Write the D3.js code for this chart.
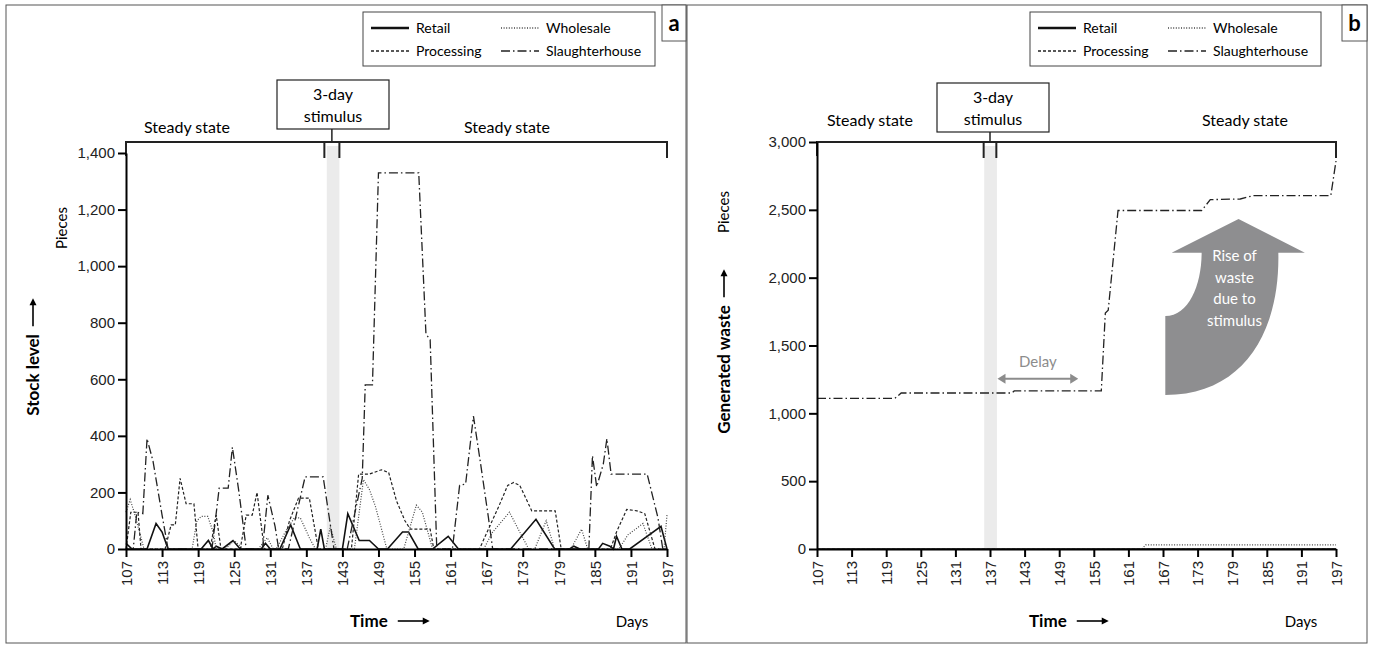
<!DOCTYPE html>
<html>
<head>
<meta charset="utf-8">
<script src="https://cdn.jsdelivr.net/npm/d3@7"></script>
<style>
  body { margin: 0; background: #fff; }
  svg { font-family: Lato, "Open Sans", sans-serif; }
  .axis path, .axis line { stroke: #000; stroke-width: 2px; }
  .axis text { font-size: 15px; fill: #222; }
</style>
</head>
<body>
<script>
// tick labels
const dayTicks = [107, 113, 119, 125, 131, 137, 143, 149, 155, 161, 167, 173, 179, 185, 191, 197];
const stockTicks = [0, 200, 400, 600, 800, 1000, 1200, 1400];
const wasteTicks = [0, 500, 1000, 1500, 2000, 2500, 3000];
const seriesNames = ["Retail", "Wholesale", "Processing", "Slaughterhouse"];

// panel a: stock level, [day, pieces]
const retailA = [[107,20],[108,0],[110.5,0],[112,90],[113,60],[114,0],[119.5,0],[120.7,30],[121.5,0],[122,10],[123,0],
  [124.8,30],[126,0],[129.5,0],[130.2,20],[131,0],[132.6,0],[134.4,85],[136,0],[138.8,0],[139.4,70],[140,0],[143,0],
  [143.9,125],[145.8,30],[147.5,30],[149,0],[150.5,0],[153,60],[154,60],[155.6,0],[158,0],[160.6,45],[162.3,0],[171,0],
  [175.2,105],[178.3,0],[180.8,0],[181.5,10],[182.5,0],[185.6,0],[186.3,20],[187.5,10],[188.1,0],[188.6,45],[189.5,0],
  [190.8,0],[196,80],[197,0]];
const wholesaleA = [[107,130],[107.7,175],[108.5,120],[110,0],[118,0],[118.8,100],[119.5,115],[120.6,115],[121.5,60],
  [122,0],[123.5,0],[125,30],[126.5,0],[129,0],[130.5,40],[131.5,0],[132,0],[133.5,60],[135,110],[136,110],[137.5,40],
  [138.5,0],[140.2,0],[141,80],[142,0],[145,0],[146.5,245],[147.5,210],[148.5,150],[150.4,0],[153.2,0],[155.3,155],
  [156.3,130],[158,0],[166.5,0],[168,60],[170.8,130],[172.5,60],[174,0],[175,0],[176.9,100],[178.3,0],[181,0],[182.8,70],
  [183.8,0],[189,0],[190.5,50],[193,90],[194.5,0],[196.5,0],[197,120]];
const processingA = [[107,0],[107.8,130],[109,130],[109.5,0],[113.5,0],[114.5,85],[115.2,85],[116,250],[117,160],
  [118.3,160],[119,0],[121,0],[122,120],[122.8,0],[126,0],[127,120],[128,120],[128.8,200],[130,0],[133,0],[134.2,100],
  [135.7,180],[137.5,180],[138.5,60],[139,0],[144.5,0],[145.7,265],[147.5,265],[149.5,280],[150.7,270],[152,170],
  [153.4,100],[154.3,70],[157.6,70],[158.2,0],[165.8,0],[167.5,80],[169,150],[170.5,225],[171.5,235],[172.5,225],
  [174.5,135],[178.4,135],[179.4,0],[187.6,0],[188.6,60],[190.3,140],[192,135],[193.3,125],[195,0],[197,0]];
const slaughterA = [[107,0],[108.2,0],[108.8,130],[109.8,125],[110.5,390],[111.5,310],[113,120],[114,0],[121.3,0],
  [122.5,215],[124,215],[124.7,360],[125.8,200],[127,0],[129.7,0],[130.6,190],[131.8,80],[132.4,0],[134,0],[136.8,255],
  [139.8,255],[141.6,0],[143.8,0],[146.3,250],[146.8,580],[148,580],[149,1330],[155.7,1330],[156.9,760],[157.6,740],
  [158.7,0],[161.3,0],[162.5,225],[163.5,230],[164.8,470],[166,300],[167.3,110],[168,0],[184,0],[184.6,330],[185.3,220],
  [186.4,300],[187,390],[187.7,265],[193.7,265],[195.5,110],[196.3,0],[197,0]];

// panel b: generated waste, [day, pieces]
const retailB = [[107,0],[197,0]];
const processingB = [[107,0],[197,0]];
const wholesaleB = [[107,0],[163.3,0],[164,30],[197,30]];
const slaughterB = [[107,1110],[120.5,1110],[121.6,1150],[140.8,1150],[141.2,1165],[156.3,1165],[157.0,1740],
  [157.5,1760],[159.2,2495],[173.7,2495],[175.2,2575],[180.4,2580],[182.7,2605],[196.1,2605],[197,2860]];

const W = 1373, H = 648;
const svg = d3.select("body").append("svg").attr("width", W).attr("height", H);

const styles = [
  {dash: null, width: 1.6, color: "#111"},
  {dash: "1,1.6", width: 1.2, color: "#444"},
  {dash: "3,2", width: 1.2, color: "#222"},
  {dash: "9,3,1.5,3", width: 1.3, color: "#222"}
];

function arrowRight(g, x0, x1, y) {
  g.append("line").attr("x1", x0).attr("x2", x1 - 5).attr("y1", y).attr("y2", y)
    .attr("stroke", "#000").attr("stroke-width", 1.6);
  g.append("path").attr("d", `M${x1},${y} L${x1 - 7},${y - 3.5} L${x1 - 7},${y + 3.5} Z`).attr("fill", "#000");
}

function drawPanel(p) {
  const g = svg.append("g");
  const x = d3.scaleLinear().domain([107, 197]).range([p.x0, p.x1]);
  const y = d3.scaleLinear().domain([0, p.ymax]).range([549, p.ytop]);

  // frame + letter box
  g.append("rect").attr("x", p.fx).attr("y", 5).attr("width", 680).attr("height", 638)
    .attr("fill", "none").attr("stroke", "#555");
  g.append("rect").attr("x", p.fx + 680 - p.lw).attr("y", 5).attr("width", p.lw).attr("height", 36)
    .attr("fill", "#fff").attr("stroke", "#555");
  g.append("text").attr("x", p.fx + 680 - p.lw / 2).attr("y", 31).attr("text-anchor", "middle")
    .attr("font-size", 22).attr("font-weight", "bold").text(p.letter);

  // stimulus band
  g.append("rect").attr("x", x(p.band[0])).attr("width", x(p.band[1]) - x(p.band[0]))
    .attr("y", 146).attr("height", 549 - 146).attr("fill", "#ebebeb");

  // series
  const line = d3.line().x(d => x(d[0])).y(d => y(d[1]));
  p.series.forEach((s, i) => {
    g.append("path").datum(s).attr("d", line).attr("fill", "none")
      .attr("stroke", styles[i].color).attr("stroke-width", styles[i].width)
      .attr("stroke-dasharray", styles[i].dash);
  });

  // bracket on top
  const bt = 142;
  g.append("path").attr("d", `M${p.x0},${bt + 14} V${bt} H${p.x1} V${bt + 16}`)
    .attr("fill", "none").attr("stroke", "#222").attr("stroke-width", 2);
  p.stim.forEach(d => {
    g.append("line").attr("x1", x(d)).attr("x2", x(d)).attr("y1", bt).attr("y2", bt + 16)
      .attr("stroke", "#222").attr("stroke-width", 2);
  });
  const sc = (x(p.stim[0]) + x(p.stim[1])) / 2;
  g.append("line").attr("x1", sc).attr("x2", sc).attr("y1", p.box[1] + p.box[3]).attr("y2", bt)
    .attr("stroke", "#222").attr("stroke-width", 1.5);
  g.append("rect").attr("x", p.box[0]).attr("y", p.box[1]).attr("width", p.box[2]).attr("height", p.box[3])
    .attr("fill", "#fff").attr("stroke", "#222").attr("stroke-width", 1.2);
  g.append("text").attr("x", p.box[0] + p.box[2] / 2).attr("y", p.box[1] + 20).attr("text-anchor", "middle")
    .attr("font-size", 16).text("3-day");
  g.append("text").attr("x", p.box[0] + p.box[2] / 2).attr("y", p.box[1] + 42).attr("text-anchor", "middle")
    .attr("font-size", 16).text("stimulus");
  p.steady.forEach(d => {
    g.append("text").attr("x", d[0]).attr("y", d[1]).attr("text-anchor", "middle")
      .attr("font-size", 16).text("Steady state");
  });

  // axes
  g.append("g").attr("class", "axis").attr("transform", `translate(0,549)`)
    .call(d3.axisBottom(x).tickValues(dayTicks).tickSize(8).tickSizeOuter(0))
    .selectAll("text").attr("transform", "rotate(-90)").attr("x", -12).attr("y", 0)
    .attr("dy", "0.35em").style("text-anchor", "end");
  g.append("g").attr("class", "axis").attr("transform", `translate(${p.x0},0)`)
    .call(d3.axisLeft(y).tickValues(p.yticks).tickSize(8).tickSizeOuter(0).tickFormat(d3.format(",")))
    .selectAll("text").attr("x", -11);

  // titles
  const yt = g.append("g").attr("transform", `translate(${p.ytx},${(549 + p.ytop) / 2 + 6}) rotate(-90)`);
  const ytxt = yt.append("text").attr("font-size", 17).attr("font-weight", "bold").attr("dy", "0.35em").text(p.ytitle);
  const tw = ytxt.node().getComputedTextLength();
  ytxt.attr("x", -(tw + 36) / 2);
  arrowRight(yt, -(tw + 36) / 2 + tw + 8, (tw + 36) / 2, 0);
  g.append("text").attr("transform", `translate(${p.pcs[0]},${p.pcs[1]}) rotate(-90)`)
    .attr("text-anchor", "middle").attr("dy", "0.35em").attr("font-size", 15).text("Pieces");

  const tx = g.append("g");
  const ttxt = tx.append("text").attr("x", p.time).attr("y", 627).attr("font-size", 17).attr("font-weight", "bold").text("Time");
  const tl = ttxt.node().getComputedTextLength();
  arrowRight(tx, p.time + tl + 10, p.time + tl + 42, 621);
  g.append("text").attr("x", p.x1 - 35).attr("y", 627).attr("text-anchor", "middle").attr("font-size", 15).text("Days");

  // legend
  const lg = g.append("g").attr("transform", `translate(${p.leg[0]},${p.leg[1]})`);
  lg.append("rect").attr("width", p.leg[2]).attr("height", 54).attr("fill", "#fff").attr("stroke", "#444");
  seriesNames.forEach((n, i) => {
    const cx = (i % 2) * p.leg[3] + 8, cy = i < 2 ? 16 : 39;
    lg.append("line").attr("x1", cx).attr("x2", cx + 38).attr("y1", cy).attr("y2", cy)
      .attr("stroke", styles[i].color).attr("stroke-width", i === 0 ? 2.4 : 1.3)
      .attr("stroke-dasharray", styles[i].dash);
    lg.append("text").attr("x", cx + 45).attr("y", cy).attr("dy", "0.35em").attr("font-size", 14).text(n);
  });
  return {g, x, y};
}

drawPanel({
  fx: 6, letter: "a", lw: 24, x0: 126, x1: 667, ymax: 1400, ytop: 153, yticks: stockTicks,
  band: [140.4, 142.5], stim: [140, 142.5], box: [277, 80, 112, 49],
  steady: [[187, 133], [507, 133]], ytitle: "Stock level", ytx: 33, pcs: [62, 228], time: 350,
  leg: [363, 12, 292, 130],
  series: [retailA, wholesaleA, processingA, slaughterA]
});

const pb = drawPanel({
  fx: 687, letter: "b", lw: 25, x0: 817, x1: 1336, ymax: 3000, ytop: 142, yticks: wasteTicks,
  band: [136, 138.2], stim: [135.9, 138.1], box: [937, 83, 112, 49],
  steady: [[870, 126], [1245, 126]], ytitle: "Generated waste", ytx: 724, pcs: [724, 212], time: 1029,
  leg: [1030, 12, 291, 130],
  series: [retailB, wholesaleB, processingB, slaughterB]
});

// delay arrow
const dg = pb.g.append("g");
const dy = pb.y(1255);
dg.append("line").attr("x1", pb.x(138.3) + 6).attr("x2", pb.x(152.3) - 6).attr("y1", dy).attr("y2", dy)
  .attr("stroke", "#8c8c8c").attr("stroke-width", 2.2);
dg.append("path").attr("d", `M${pb.x(138.3)},${dy} l8,-5 v10 Z M${pb.x(152.3)},${dy} l-8,-5 v10 Z`).attr("fill", "#8c8c8c");
dg.append("text").attr("x", pb.x(145.3)).attr("y", dy - 12).attr("text-anchor", "middle")
  .attr("font-size", 15).attr("fill", "#8c8c8c").text("Delay");

// rise-of-waste arrow (day, pieces)
const X = pb.x, Y = pb.y;
const riseD = `M${X(168.5)},${Y(2184)} L${X(180.1)},${Y(2432)} L${X(191.6)},${Y(2184)} L${X(187)},${Y(2184)}
  C${X(187.3)},${Y(1600)} ${X(181)},${Y(1135)} ${X(167.4)},${Y(1135)} L${X(167.4)},${Y(1717)}
  C${X(171.5)},${Y(1717)} ${X(173.7)},${Y(1950)} ${X(173.7)},${Y(2184)} Z`;
pb.g.append("path").attr("d", riseD).attr("fill", "#8e8e90");
["Rise of", "waste", "due to", "stimulus"].forEach((t, i) => {
  pb.g.append("text").attr("x", X(179.4)).attr("y", 261 + i * 21.5).attr("text-anchor", "middle")
    .attr("font-size", 15).attr("fill", "#fff").text(t);
});
</script>
</body>
</html>
